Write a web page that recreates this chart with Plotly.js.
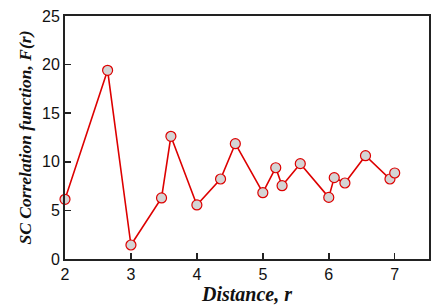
<!DOCTYPE html>
<html>
<head>
<meta charset="utf-8">
<script src="https://cdn.plot.ly/plotly-3.0.1.min.js"></script>
<style>html,body{margin:0;padding:0;background:#fff;}#chart{width:436px;height:306px;}</style>
</head>
<body>
<div id="chart"></div>
<script>
// Distances r (x) and SC correlation function F(r) (y)
var distance = [2.0, 2.646, 3.0, 3.464, 3.606, 4.0, 4.359, 4.583, 5.0, 5.196, 5.292, 5.568, 6.0, 6.083, 6.245, 6.557, 6.928, 7.0];
var correlation = [6.14, 19.41, 1.44, 6.28, 12.62, 5.56, 8.23, 11.86, 6.82, 9.39, 7.54, 9.81, 6.34, 8.37, 7.82, 10.63, 8.23, 8.85];
var xTicks = [2, 3, 4, 5, 6, 7];
var yTicks = [0, 5, 10, 15, 20, 25];

var trace = {
  x: distance,
  y: correlation,
  type: 'scatter',
  mode: 'lines+markers',
  line: {color: '#dd0000', width: 1.6},
  marker: {symbol: 'circle', size: 10, color: '#d4d4d4', line: {color: '#dd0000', width: 1.2}},
  cliponaxis: false,
  hoverinfo: 'none'
};

var axisCommon = {
  showgrid: false,
  zeroline: false,
  showline: true,
  linecolor: '#222',
  linewidth: 2,
  mirror: true,
  ticks: 'inside',
  ticklen: 6,
  tickwidth: 1.5,
  tickcolor: '#222',
  tickfont: {family: 'Liberation Sans, Arial, sans-serif', size: 16, color: '#111'}
};

var layout = {
  width: 436,
  height: 306,
  margin: {l: 65, r: 7, t: 16, b: 47},
  paper_bgcolor: '#fff',
  plot_bgcolor: '#fff',
  showlegend: false,
  xaxis: Object.assign({}, axisCommon, {
    range: [2, 7.52],
    tickvals: xTicks,
    ticktext: xTicks.map(String),
    title: {text: 'Distance, r', font: {family: 'Liberation Serif, Times New Roman, serif', size: 20, color: '#111', weight: 'bold', style: 'italic'}, standoff: 2}
  }),
  yaxis: Object.assign({}, axisCommon, {
    range: [0, 25],
    tickvals: yTicks,
    ticktext: yTicks.map(String),
    title: {text: 'SC Correlation function, F(r)', font: {family: 'Liberation Serif, Times New Roman, serif', size: 17.5, color: '#111', weight: 'bold', style: 'italic'}, standoff: 6}
  })
};

Plotly.newPlot('chart', [trace], layout, {displayModeBar: false, staticPlot: true});
</script>
</body>
</html>
